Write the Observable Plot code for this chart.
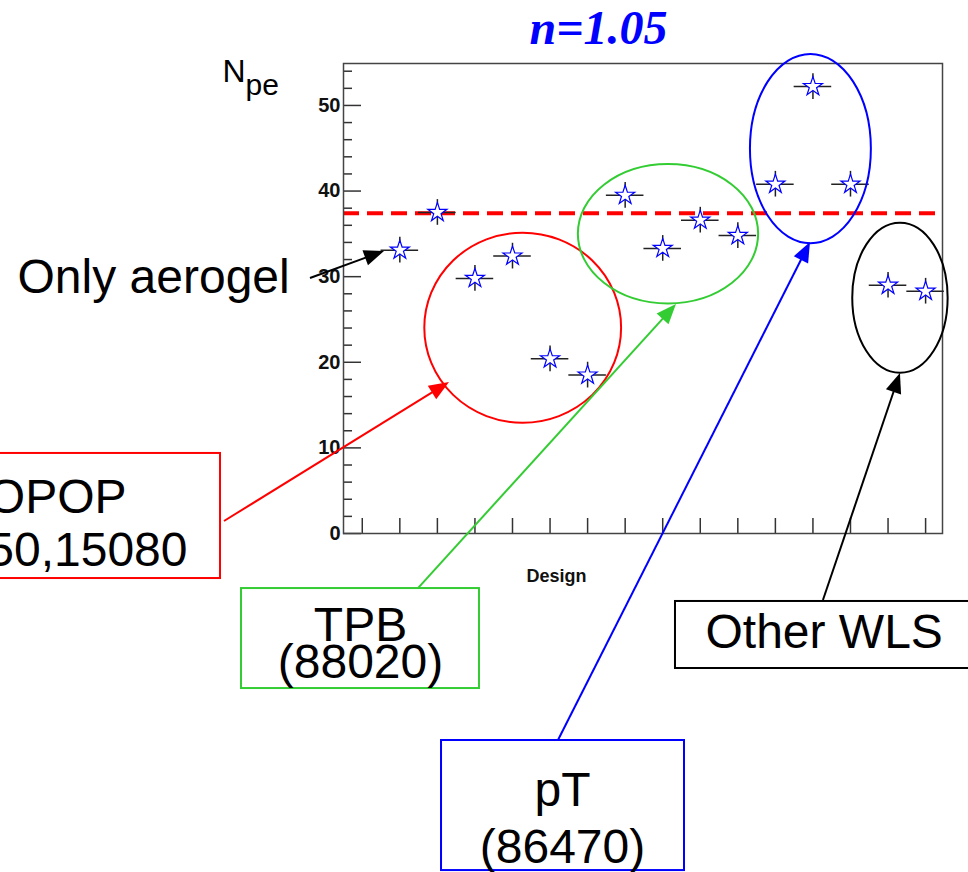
<!DOCTYPE html>
<html><head><meta charset="utf-8">
<script src="https://cdn.jsdelivr.net/npm/d3@7"></script>
<script src="https://cdn.jsdelivr.net/npm/@observablehq/plot@0.6"></script>
<style>
body{margin:0;background:#fff;}
#chart svg{display:block;background:#fff;}
</style></head><body><div id="chart"></div>
<script>
// ---- data ----
const design = [1,2,3,4,5,6,7,8,9,10,11,12,13,14,15];
const npe    = [33.1,37.5,29.8,32.4,20.4,18.5,39.5,33.3,36.6,34.8,40.8,52.2,40.8,29.0,28.3];
const npeErr = [1.5,1.5,1.5,1.5,1.5,1.5,1.5,1.5,1.5,1.5,1.5,1.5,1.5,1.5,1.5];
const binHalfWidth = 0.5;
const aerogelOnly = 37.4;
const yMajorTicks = [0,10,20,30,40,50];
const yMinorTicks = [2,4,6,8,12,14,16,18,22,24,26,28,32,34,36,38,42,44,46,48,52,54];
const xTicks = [0,1,2,3,4,5,6,7,8,9,10,11,12,13,14,15];

// ---- annotations (in data units) ----
const ellipses = [
  {cx: 4.285, cy: 23.98, rx: 2.62, ry: 11.1, color: "#ff0000"},
  {cx: 8.154, cy: 34.96, rx: 2.40, ry: 8.14, color: "#33cc33"},
  {cx: 11.946, cy: 44.9, rx: 1.61, ry: 11.06, color: "#0000ff"},
  {cx: 14.33, cy: 27.49, rx: 1.27, ry: 8.76, color: "#000000"}
];
const arrows = [
  {x1: -1.379, y1: 29.79, x2: 0.592, y2: 32.94, color: "#000000"},
  {x1: -3.669, y1: 1.40, x2: 2.323, y2: 17.64, color: "#ff0000"},
  {x1: 1.497, y1: -6.43, x2: 8.367, y2: 26.75, color: "#33cc33"},
  {x1: 5.225, y1: -24.18, x2: 11.935, y2: 34.0, color: "#0000ff"},
  {x1: 12.28, y1: -7.83, x2: 14.33, y2: 18.69, color: "#000000"}
];
const boxes = [
  {x1: -9.9, x2: -3.775, y1: 9.35, y2: -5.26, color: "#ff0000"},
  {x1: -3.216, x2: 3.121, y1: -6.43, y2: -18.11, color: "#33cc33"},
  {x1: 2.11, x2: 8.58, y1: -24.18, y2: -39.37, color: "#0000ff"},
  {x1: 8.34, x2: 16.33, y1: -7.94, y2: -15.77, color: "#000000"}
];
const labelsStart = [
  {text: "Only aerogel", x: -9.18, y: 28.15},
  {text: "Other WLS", x: 9.139, y: -13.43}
];
const labelsEnd = [
  {text: "OPOP", x: -6.278, y: 2.45},
  {text: "50,15080", x: -4.654, y: -3.74}
];
const labelsMiddle = [
  {text: "TPB", x: -0.047, y: -12.6},
  {text: "(88020)", x: -0.047, y: -16.85},
  {text: "pT", x: 5.331, y: -31.78},
  {text: "(86470)", x: 5.331, y: -38.43}
];
const title = {text: "n=1.05", x: 6.29, y: 57.12};
const yLabelMain = {text: "N", x: -3.722, y: 52.69};
const yLabelSub = {text: "pe", x: -3.11, y: 51.17};
const xLabel = {text: "Design", x: 5.172, y: -5.72};

const points = design.map((d, i) => ({design: d, npe: npe[i], err: npeErr[i]}));

const W = 968, H = 872;
const mL = 343, mR = 26, mT = 63, mB = 339;
const frameW = W - mL - mR, frameH = H - mT - mB;
const sans = "'Liberation Sans', Arial, Helvetica, sans-serif";

function annotationLayer(index, scales) {
  const x = scales.x, y = scales.y;
  const g = d3.create("svg:g");
  for (const e of ellipses) {
    g.append("ellipse")
      .attr("cx", x(e.cx)).attr("cy", y(e.cy))
      .attr("rx", Math.abs(x(e.cx + e.rx) - x(e.cx)))
      .attr("ry", Math.abs(y(e.cy + e.ry) - y(e.cy)))
      .attr("fill", "none").attr("stroke", e.color).attr("stroke-width", 2);
  }
  for (const a of arrows) {
    const X1 = x(a.x1), Y1 = y(a.y1), X2 = x(a.x2), Y2 = y(a.y2);
    const ang = Math.atan2(Y2 - Y1, X2 - X1);
    const L = 20, Hw = 8;
    const bx = X2 - L * Math.cos(ang), by = Y2 - L * Math.sin(ang);
    g.append("line").attr("x1", X1).attr("y1", Y1).attr("x2", bx + 2*Math.cos(ang)).attr("y2", by + 2*Math.sin(ang))
      .attr("stroke", a.color).attr("stroke-width", 2);
    g.append("polygon")
      .attr("points", [[X2, Y2], [bx + Hw * Math.sin(ang), by - Hw * Math.cos(ang)], [bx - Hw * Math.sin(ang), by + Hw * Math.cos(ang)]].map(p => p.join(",")).join(" "))
      .attr("fill", a.color);
  }
  return g.node();
}

const textOpts = {x: "x", y: "y", text: "text", lineAnchor: "bottom", fontSize: 48, fontFamily: sans, fill: "#000"};

const chart = Plot.plot({
  width: W, height: H,
  marginLeft: mL, marginRight: mR, marginTop: mT, marginBottom: mB,
  x: {domain: [-0.5, 15.45], axis: null},
  y: {domain: [0, 54.9], axis: null},
  marks: [
    Plot.ruleY([aerogelOnly], {y: d => d, stroke: "#ff0000", strokeWidth: 4, strokeDasharray: "16,8"}),
    Plot.ruleY(yMajorTicks, {y: d => d, insetRight: frameW - 18, stroke: "#333", strokeWidth: 1.5}),
    Plot.ruleY(yMinorTicks, {y: d => d, insetRight: frameW - 9, stroke: "#333", strokeWidth: 1.5}),
    Plot.ruleX(xTicks, {x: d => d, insetTop: frameH - 15, stroke: "#333", strokeWidth: 1.5}),
    Plot.axisY({ticks: yMajorTicks, tickSize: 0, tickPadding: 3, label: null, fontSize: 20, fontWeight: "bold", fontFamily: sans, fill: "#111"}),
    Plot.frame({stroke: "#444", strokeWidth: 1.5}),
    Plot.ruleY(points, {y: "npe", x1: d => d.design - binHalfWidth, x2: d => d.design + binHalfWidth, stroke: "#222", strokeWidth: 1.5}),
    Plot.ruleX(points, {x: "design", y1: d => d.npe - d.err, y2: d => d.npe + d.err, stroke: "#222", strokeWidth: 1.5}),
    Plot.dot(points, {x: "design", y: "npe", symbol: "star", r: 6, stroke: "#0000ff", fill: "white", strokeWidth: 1.2}),
    annotationLayer,
    Plot.rect(boxes, {x1: "x1", x2: "x2", y1: "y1", y2: "y2", stroke: "color", fill: "none", strokeWidth: 2}),
    Plot.text(labelsStart, {...textOpts, textAnchor: "start"}),
    Plot.text(labelsEnd, {...textOpts, textAnchor: "end"}),
    Plot.text(labelsMiddle, {...textOpts, textAnchor: "middle"}),
    Plot.text([title], {x: "x", y: "y", text: "text", lineAnchor: "bottom", fontSize: 48, fontFamily: "'Liberation Serif', 'Times New Roman', serif", fontWeight: "bold", fontStyle: "italic", fill: "#0000ff"}),
    Plot.text([yLabelMain], {x: "x", y: "y", text: "text", textAnchor: "start", lineAnchor: "bottom", fontSize: 32, fontFamily: sans, fill: "#000"}),
    Plot.text([yLabelSub], {x: "x", y: "y", text: "text", textAnchor: "start", lineAnchor: "bottom", fontSize: 30, fontFamily: sans, fill: "#000"}),
    Plot.text([xLabel], {x: "x", y: "y", text: "text", lineAnchor: "bottom", fontSize: 18, fontWeight: "bold", fontFamily: sans, fill: "#111"})
  ]
});
document.getElementById("chart").appendChild(chart);
</script>
</body></html>
